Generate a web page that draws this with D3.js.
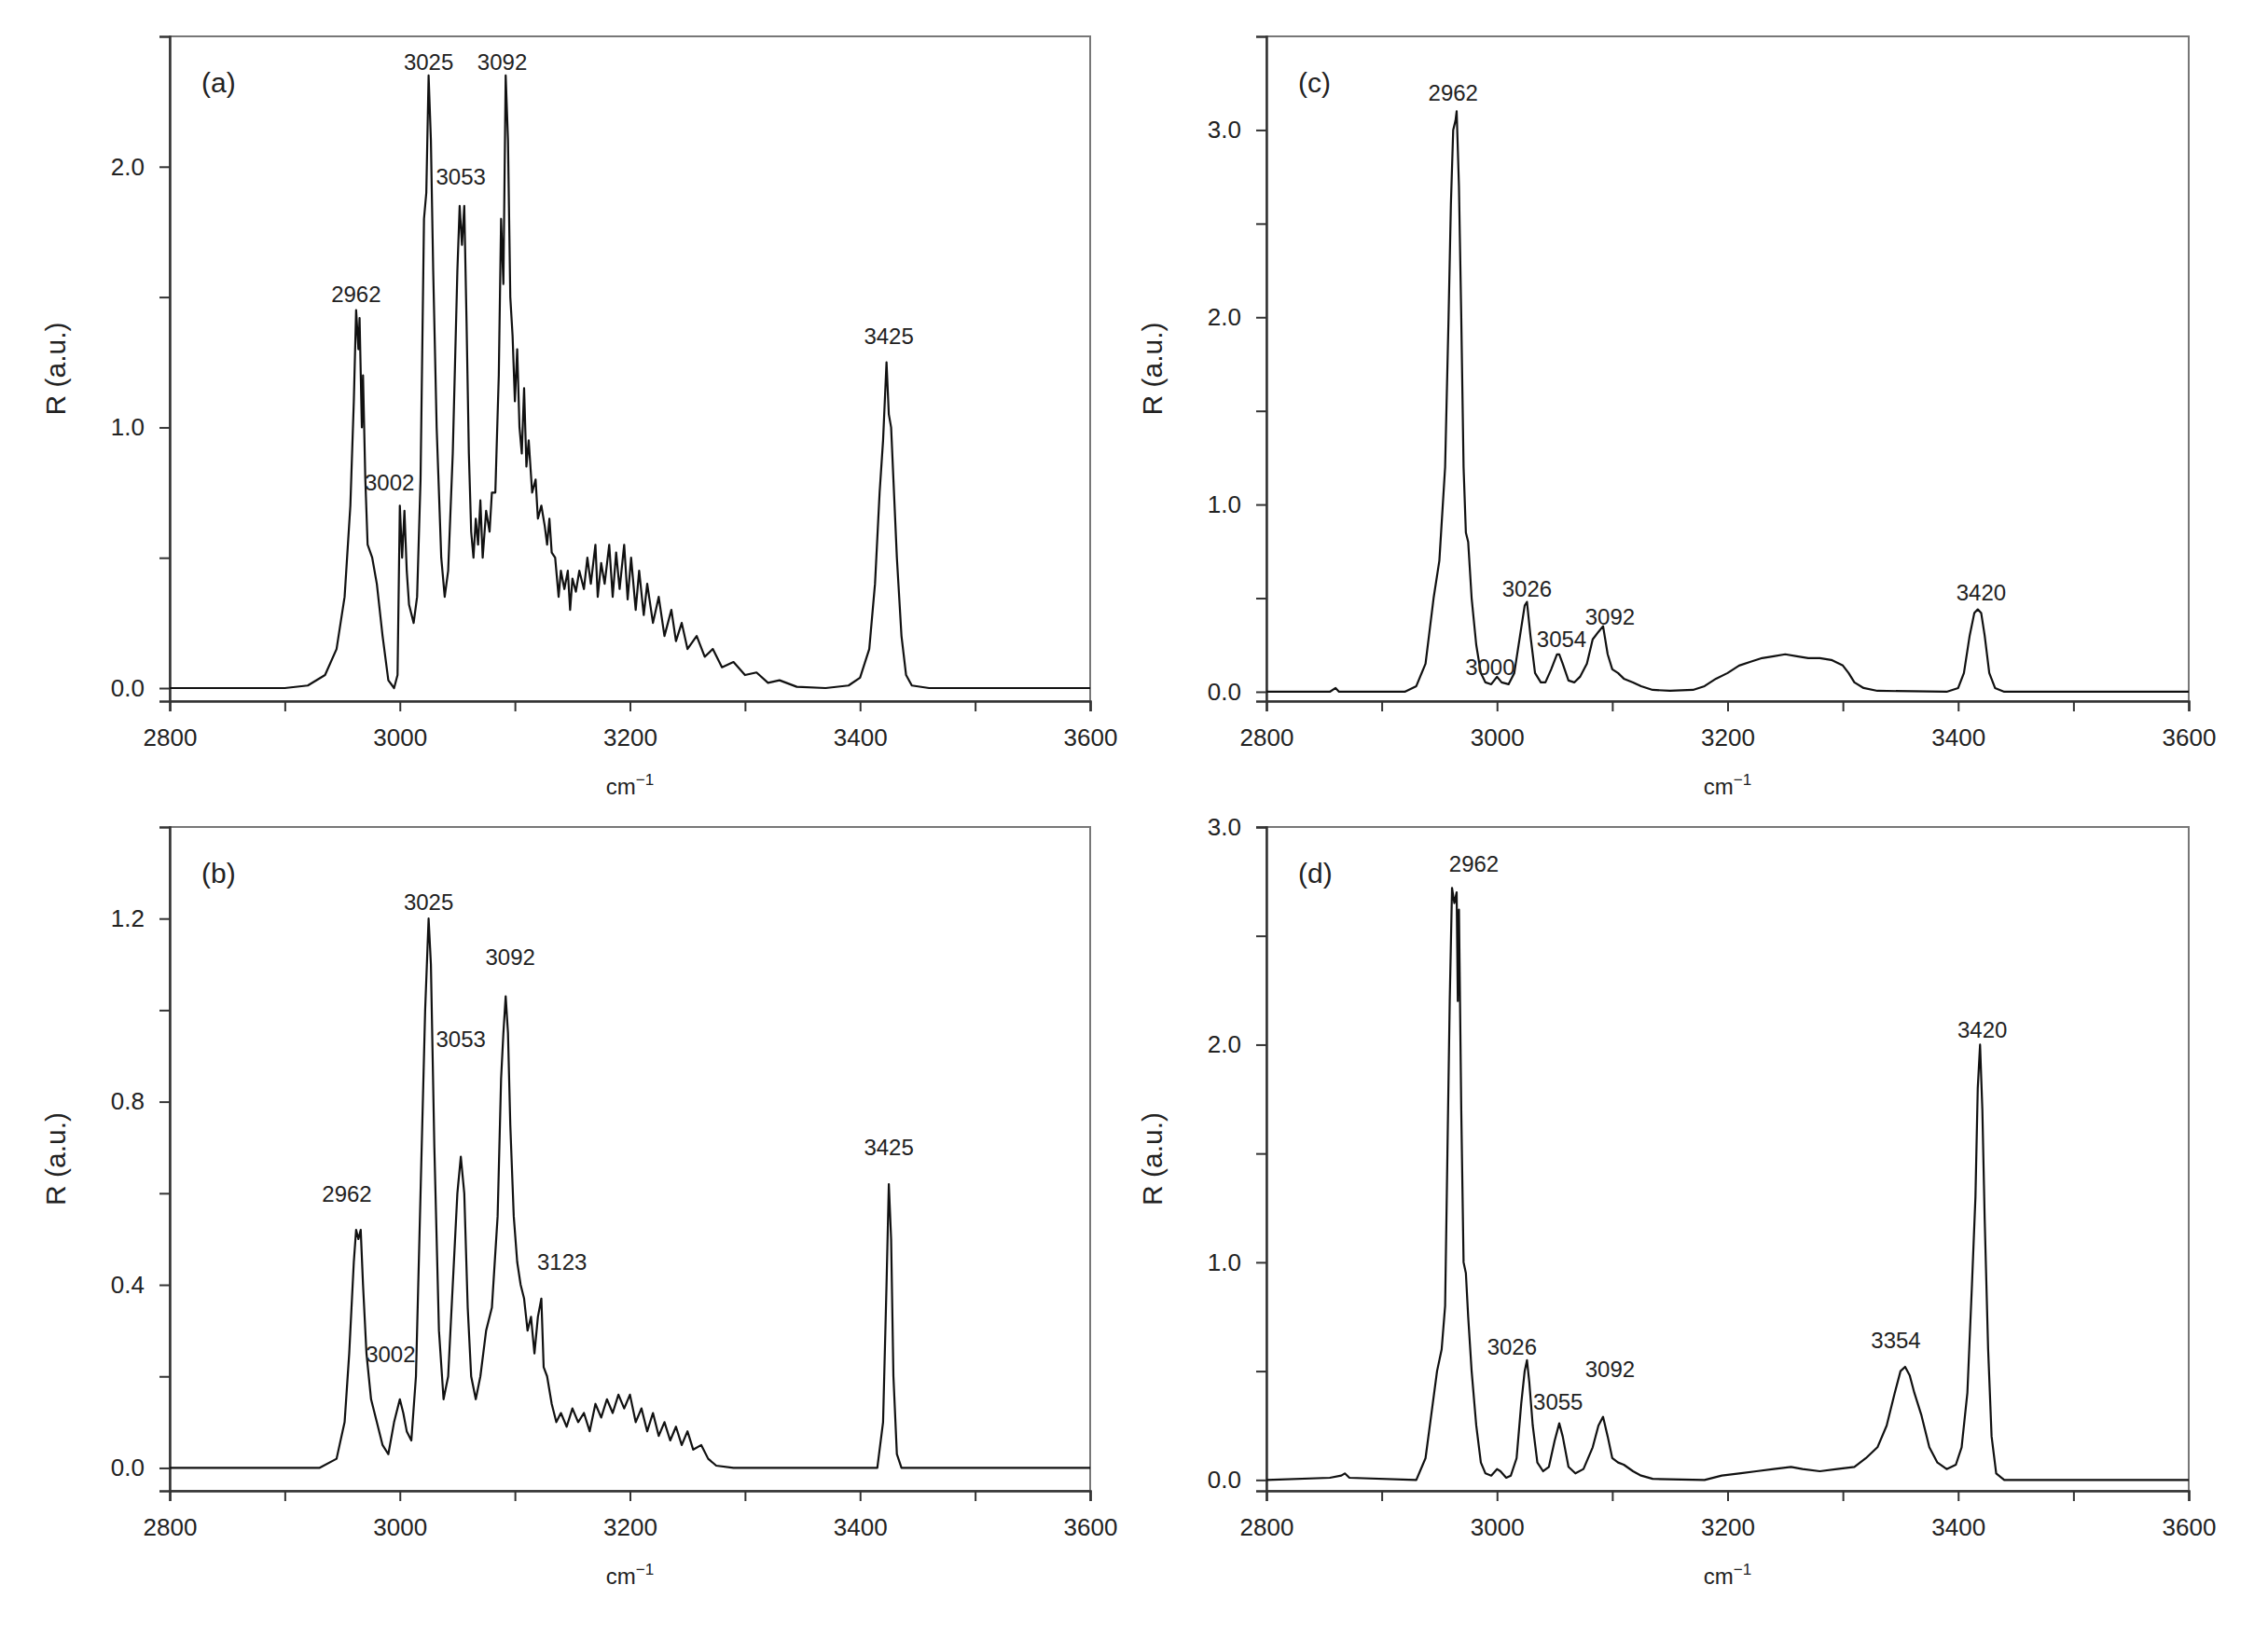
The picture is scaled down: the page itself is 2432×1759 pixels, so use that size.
<!DOCTYPE html>
<html><head><meta charset="utf-8">
<script src="https://cdn.jsdelivr.net/npm/d3@7"></script>
<style>body{margin:0;background:#fff}text{font-family:Arial,"Liberation Sans",sans-serif;fill:#222}</style>
</head><body><svg id="c" width="2432" height="1759"></svg>
<script>
const xTicks = [2800,2900,3000,3100,3200,3300,3400,3500,3600];
const xTickLabels = [2800,3000,3200,3400,3600];

const specA = [[2800,0],[2900,0],[2920,0.01],[2935,0.05],[2945,0.15],[2952,0.35],[2957,0.7],[2960,1.1],[2962,1.45],[2964,1.3],[2965,1.42],[2967,1.0],[2968,1.2],[2970,0.8],[2972,0.55],[2976,0.5],[2980,0.4],[2985,0.2],[2990,0.03],[2995,0],[2998,0.05],[3000,0.7],[3002,0.5],[3004,0.68],[3006,0.45],[3008,0.32],[3012,0.25],[3015,0.35],[3018,0.8],[3021,1.8],[3023,1.9],[3025,2.35],[3027,2.1],[3029,1.6],[3032,1.0],[3036,0.5],[3039,0.35],[3042,0.45],[3046,0.9],[3050,1.6],[3052,1.85],[3054,1.7],[3056,1.85],[3058,1.4],[3060,0.9],[3062,0.6],[3064,0.5],[3066,0.65],[3068,0.55],[3070,0.72],[3072,0.5],[3075,0.68],[3078,0.6],[3080,0.75],[3083,0.75],[3086,1.2],[3088,1.8],[3090,1.55],[3092,2.35],[3094,2.1],[3096,1.5],[3098,1.35],[3100,1.1],[3102,1.3],[3104,1.0],[3106,0.9],[3108,1.15],[3110,0.85],[3112,0.95],[3115,0.75],[3118,0.8],[3120,0.65],[3123,0.7],[3126,0.62],[3128,0.55],[3130,0.65],[3132,0.52],[3135,0.5],[3138,0.35],[3140,0.45],[3143,0.38],[3146,0.45],[3148,0.3],[3150,0.42],[3153,0.37],[3156,0.45],[3160,0.38],[3163,0.5],[3166,0.4],[3170,0.55],[3172,0.35],[3175,0.48],[3178,0.4],[3182,0.55],[3185,0.35],[3188,0.52],[3191,0.38],[3195,0.55],[3198,0.34],[3201,0.5],[3205,0.3],[3208,0.45],[3212,0.28],[3215,0.4],[3220,0.25],[3225,0.35],[3230,0.2],[3236,0.3],[3240,0.18],[3245,0.25],[3250,0.15],[3258,0.2],[3265,0.12],[3272,0.15],[3280,0.08],[3290,0.1],[3300,0.05],[3310,0.06],[3320,0.02],[3330,0.03],[3345,0.005],[3370,0],[3390,0.01],[3400,0.04],[3408,0.15],[3413,0.4],[3417,0.75],[3420,0.95],[3423,1.25],[3425,1.05],[3427,1.0],[3429,0.8],[3432,0.5],[3436,0.2],[3440,0.05],[3445,0.01],[3460,0],[3600,0]];

const specB = [[2800,0],[2930,0],[2945,0.02],[2952,0.1],[2956,0.25],[2960,0.45],[2962,0.52],[2964,0.5],[2966,0.52],[2968,0.4],[2971,0.25],[2975,0.15],[2980,0.1],[2985,0.05],[2990,0.03],[2995,0.1],[3000,0.15],[3003,0.12],[3006,0.08],[3010,0.06],[3014,0.2],[3018,0.6],[3022,1.0],[3025,1.2],[3027,1.1],[3030,0.7],[3034,0.3],[3038,0.15],[3042,0.2],[3046,0.4],[3050,0.6],[3053,0.68],[3056,0.6],[3059,0.35],[3062,0.2],[3066,0.15],[3070,0.2],[3075,0.3],[3080,0.35],[3085,0.55],[3088,0.85],[3090,0.95],[3092,1.03],[3094,0.95],[3096,0.75],[3099,0.55],[3102,0.45],[3105,0.4],[3108,0.37],[3111,0.3],[3114,0.33],[3117,0.25],[3120,0.33],[3123,0.37],[3125,0.22],[3128,0.2],[3132,0.14],[3136,0.1],[3140,0.12],[3145,0.09],[3150,0.13],[3155,0.1],[3160,0.12],[3165,0.08],[3170,0.14],[3175,0.11],[3180,0.15],[3185,0.12],[3190,0.16],[3195,0.13],[3200,0.16],[3205,0.1],[3210,0.13],[3215,0.08],[3220,0.12],[3225,0.07],[3230,0.1],[3235,0.06],[3240,0.09],[3245,0.05],[3250,0.08],[3255,0.04],[3262,0.05],[3268,0.02],[3275,0.005],[3290,0],[3415,0],[3420,0.1],[3423,0.4],[3425,0.62],[3427,0.5],[3429,0.2],[3432,0.03],[3436,0],[3600,0]];

const specC = [[2800,0],[2855,0],[2860,0.02],[2863,0],[2920,0],[2930,0.03],[2938,0.15],[2945,0.5],[2950,0.7],[2955,1.2],[2958,2.0],[2960,2.6],[2962,3.0],[2964,3.05],[2965,3.1],[2967,2.7],[2969,2.0],[2971,1.2],[2973,0.85],[2975,0.8],[2978,0.5],[2982,0.25],[2986,0.1],[2990,0.05],[2995,0.04],[3000,0.08],[3004,0.05],[3010,0.04],[3015,0.1],[3020,0.3],[3024,0.46],[3026,0.48],[3029,0.3],[3033,0.1],[3038,0.05],[3042,0.05],[3047,0.12],[3052,0.2],[3054,0.2],[3057,0.15],[3062,0.06],[3067,0.05],[3072,0.08],[3078,0.15],[3083,0.28],[3088,0.32],[3092,0.35],[3096,0.2],[3100,0.12],[3105,0.1],[3110,0.07],[3118,0.05],[3125,0.03],[3135,0.01],[3150,0.005],[3170,0.01],[3180,0.03],[3190,0.07],[3200,0.1],[3210,0.14],[3220,0.16],[3230,0.18],[3240,0.19],[3250,0.2],[3260,0.19],[3270,0.18],[3280,0.18],[3290,0.17],[3300,0.14],[3305,0.1],[3310,0.05],[3318,0.02],[3330,0.005],[3390,0],[3400,0.02],[3405,0.1],[3410,0.3],[3414,0.42],[3417,0.44],[3420,0.42],[3423,0.3],[3427,0.1],[3432,0.02],[3440,0],[3600,0]];

const specD = [[2800,0],[2855,0.01],[2865,0.02],[2868,0.03],[2872,0.01],[2930,0],[2938,0.1],[2943,0.3],[2948,0.5],[2952,0.6],[2955,0.8],[2957,1.5],[2959,2.2],[2961,2.72],[2963,2.65],[2965,2.7],[2966,2.2],[2967,2.62],[2969,1.7],[2971,1.0],[2973,0.95],[2975,0.75],[2978,0.5],[2982,0.25],[2986,0.08],[2990,0.03],[2995,0.02],[3000,0.05],[3003,0.04],[3008,0.01],[3012,0.02],[3017,0.1],[3021,0.35],[3024,0.5],[3026,0.55],[3028,0.45],[3031,0.25],[3035,0.08],[3040,0.04],[3045,0.06],[3050,0.18],[3054,0.26],[3057,0.2],[3062,0.06],[3068,0.03],[3075,0.05],[3083,0.15],[3088,0.25],[3092,0.29],[3096,0.2],[3100,0.1],[3105,0.08],[3110,0.07],[3118,0.04],[3125,0.02],[3135,0.005],[3180,0],[3195,0.02],[3210,0.03],[3225,0.04],[3240,0.05],[3255,0.06],[3265,0.05],[3280,0.04],[3295,0.05],[3310,0.06],[3320,0.1],[3330,0.15],[3338,0.25],[3345,0.4],[3350,0.5],[3354,0.52],[3358,0.48],[3362,0.4],[3368,0.3],[3375,0.15],[3382,0.08],[3390,0.05],[3398,0.07],[3403,0.15],[3408,0.4],[3412,0.9],[3415,1.3],[3417,1.8],[3419,2.0],[3421,1.7],[3423,1.2],[3426,0.6],[3429,0.2],[3433,0.03],[3440,0],[3600,0]];

const labelsA = [["3025",3025,2.40],["3092",3089,2.40],["3053",3053,1.96],["2962",2962,1.51],["3002",2991,0.79],["3425",3425,1.35]];
const labelsB = [["3025",3025,1.236],["3092",3096,1.116],["3053",3053,0.936],["2962",2954,0.598],["3002",2992,0.248],["3123",3141,0.45],["3425",3425,0.70]];
const labelsC = [["2962",2962,3.2],["3026",3026,0.55],["3054",3056,0.28],["3092",3098,0.40],["3000",2994,0.13],["3420",3420,0.53]];
const labelsD = [["2962",2980,2.83],["3026",3013,0.61],["3055",3053,0.36],["3092",3098,0.51],["3354",3346,0.64],["3420",3421,2.07]];

const yTicksA=[0,0.5,1,1.5,2], yLabA=[0,1,2];
const yTicksB=[0,0.2,0.4,0.6,0.8,1.0,1.2], yLabB=[0,0.4,0.8,1.2];
const yTicksC=[0,0.5,1,1.5,2,2.5,3], yLabC=[0,1,2,3];
const yTicksD=[0,0.5,1,1.5,2,2.5,3], yLabD=[0,1,2,3];

const panels = [
 {tag:"(a)",data:specA,labels:labelsA,ymax:2.5,yt:yTicksA,yl:yLabA,x0:182,x1:1169,top:39,bot:752},
 {tag:"(b)",data:specB,labels:labelsB,ymax:1.4,yt:yTicksB,yl:yLabB,x0:182,x1:1169,top:887,bot:1599},
 {tag:"(c)",data:specC,labels:labelsC,ymax:3.5,yt:yTicksC,yl:yLabC,x0:1358,x1:2347,top:39,bot:752},
 {tag:"(d)",data:specD,labels:labelsD,ymax:3.0,yt:yTicksD,yl:yLabD,x0:1358,x1:2347,top:887,bot:1599}
];

const svg = d3.select("#c");
panels.forEach(p=>{
  const x = d3.scaleLinear().domain([2800,3600]).range([p.x0,p.x1]);
  const y = d3.scaleLinear().domain([-0.05,p.ymax]).range([p.bot,p.top]);
  const g = svg.append("g");
  g.append("rect").attr("x",p.x0).attr("y",p.top).attr("width",p.x1-p.x0).attr("height",p.bot-p.top)
    .attr("fill","none").attr("stroke","#777").attr("stroke-width",2);
  const xa = g.append("g").attr("transform",`translate(0,${p.bot})`)
    .call(d3.axisBottom(x).tickValues(xTicks).tickSize(11).tickFormat(d=>xTickLabels.includes(d)?d:""));
  const ya = g.append("g").attr("transform",`translate(${p.x0},0)`)
    .call(d3.axisLeft(y).tickValues(p.yt).tickSize(11).tickFormat(d=>p.yl.some(v=>Math.abs(v-d)<1e-9)?d3.format(".1f")(d):""));
  [xa,ya].forEach(a=>{a.select(".domain").attr("stroke","#333").attr("stroke-width",2.5);
    a.selectAll(".tick line").attr("stroke","#333").attr("stroke-width",2);
    a.selectAll(".tick text").attr("font-size",26).attr("fill","#333").style("font-family","Arial,'Liberation Sans',sans-serif");});
  xa.selectAll(".tick text").attr("dy","1.3em");
  ya.selectAll(".tick text").attr("dx","-0.5em");
  g.append("path").datum(p.data).attr("fill","none").attr("stroke","#111").attr("stroke-width",2.2)
    .attr("stroke-linejoin","round")
    .attr("d",d3.line().x(d=>x(d[0])).y(d=>y(d[1])));
  g.selectAll(".pl").data(p.labels).enter().append("text")
    .attr("x",d=>x(d[1])).attr("y",d=>y(d[2])).attr("dy","0.35em").attr("text-anchor","middle")
    .attr("font-size",24).text(d=>d[0]);
  g.append("text").attr("x",p.x0+34).attr("y",p.top+60).attr("font-size",30).text(p.tag);
  g.append("text").attr("transform",`translate(${p.x0-112},${(p.top+p.bot)/2}) rotate(-90)`)
    .attr("text-anchor","middle").attr("font-size",30).text("R (a.u.)");
  const t = g.append("text").attr("x",(p.x0+p.x1)/2).attr("y",p.bot+100).attr("text-anchor","middle").attr("font-size",24);
  t.append("tspan").text("cm");
  t.append("tspan").attr("dy",-10).attr("font-size",17).text("−1");
});
</script></body></html>
